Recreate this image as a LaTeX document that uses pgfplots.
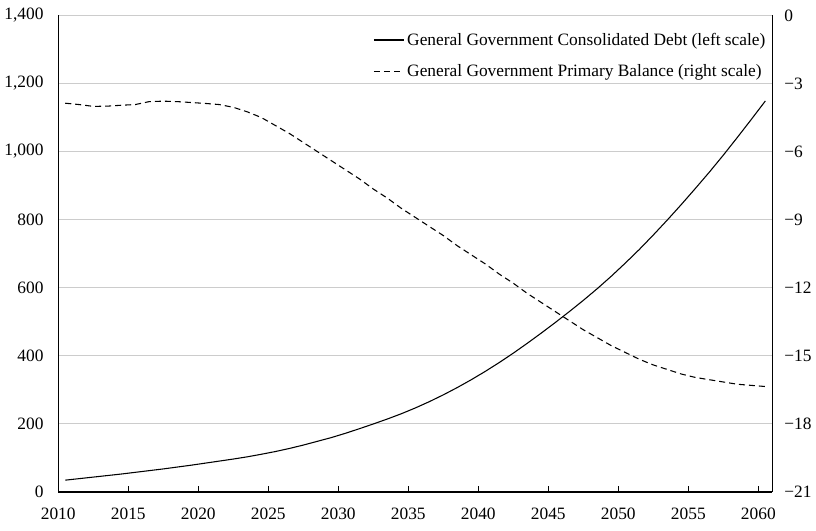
\documentclass[border=0pt]{standalone}
\usepackage{fontspec}
\setmainfont{Liberation Serif}
\usepackage{pgfplots}
\usepackage{pgfplotstable}
\pgfplotsset{compat=1.18}

\pgfplotstableread{
year debt
2010 35
2011 39.5
2012 44
2013 48.5
2014 53
2015 58
2016 63
2017 68
2018 73.5
2019 79
2020 85
2021 91
2022 97
2023 103.5
2024 111
2025 119
2026 128
2027 138
2028 149
2029 160
2030 172.5
2031 186
2032 200
2033 214.5
2034 230
2035 247
2036 265.5
2037 285.5
2038 307
2039 330
2040 354.5
2041 380.5
2042 408
2043 437
2044 467
2045 498
2046 530
2047 563
2048 597.5
2049 634
2050 672.5
2051 712.5
2052 755
2053 799
2054 844.5
2055 891.5
2056 939.5
2057 989.5
2058 1041.5
2059 1094.5
2060 1148.5
}\debttable

\pgfplotstableread{
year bal
2010 -3.87
2011 -3.93
2012 -4.01
2013 -4.00
2014 -3.96
2015 -3.93
2016 -3.80
2017 -3.78
2018 -3.80
2019 -3.84
2020 -3.88
2021 -3.93
2022 -4.05
2023 -4.25
2024 -4.50
2025 -4.85
2026 -5.20
2027 -5.60
2028 -6.00
2029 -6.40
2030 -6.80
2031 -7.20
2032 -7.65
2033 -8.05
2034 -8.50
2035 -8.90
2036 -9.30
2037 -9.70
2038 -10.15
2039 -10.55
2040 -10.95
2041 -11.40
2042 -11.80
2043 -12.25
2044 -12.65
2045 -13.05
2046 -13.45
2047 -13.85
2048 -14.20
2049 -14.55
2050 -14.85
2051 -15.15
2052 -15.40
2053 -15.60
2054 -15.80
2055 -15.95
2056 -16.05
2057 -16.15
2058 -16.25
2059 -16.30
2060 -16.35
}\baltable

\pgfplotsset{
  common/.style={
    scale only axis, width=534.75pt, height=357pt,
    xmin=2009.5, xmax=2060.5,
    font=\fontsize{13}{15}\selectfont,
    axis line style={-, black, line width=0.9pt},
  }
}

\begin{document}
\begin{tikzpicture}
\begin{axis}[
  common, name=ax,
  ymin=0, ymax=1400,
  axis x line*=bottom, axis y line*=left,
  xtick={2009.5,2014.5,2019.5,2024.5,2029.5,2034.5,2039.5,2044.5,2049.5,2054.5,2059.5},
  xticklabels={2010,2015,2020,2025,2030,2035,2040,2045,2050,2055,2060},
  ytick={0,200,400,600,800,1000,1200,1400},
  yticklabels={0,200,400,600,800,{1,000},{1,200},{1,400}},
  ymajorgrids, grid style={draw=black!20, line width=0.75pt},
  tick align=inside, major tick length=4.5pt,
  xtick style={draw=black, line width=0.75pt},
  ytick style={draw=none},
  yticklabel style={xshift=-7.5pt},
  xticklabel style={yshift=-8pt},
]
\addplot[black, line width=0.8pt] table[x=year, y=debt] {\debttable};
\end{axis}
\begin{axis}[
  common,
  ymin=-21, ymax=0,
  axis y line*=right, axis x line=none,
  ytick={-21,-18,-15,-12,-9,-6,-3,0},
  yticklabels={−21,−18,−15,−12,−9,−6,−3,0},
  ytick style={draw=none},
  yticklabel style={xshift=5.5pt},
  legend style={at={(rel axis cs:1.0,0.975)}, anchor=north east, draw=none, fill=none,
    font=\fontsize{13}{15}\selectfont, row sep=9pt, cells={anchor=west}},
  legend image code/.code={\draw[#1] (0pt,0pt) -- (22.5pt,0pt);},
]
\addlegendimage{black, line width=0.8pt}
\addlegendentry{General Government Consolidated Debt (left scale)}
\addplot[black, line width=0.8pt, dash pattern=on 4.5pt off 3pt] table[x=year, y=bal] {\baltable};
\addlegendentry{General Government Primary Balance (right scale)}
\end{axis}
\path (ax.south west) ++(0pt,-29pt);
\path (ax.north west) ++(0pt,11.5pt);
\end{tikzpicture}
\end{document}
